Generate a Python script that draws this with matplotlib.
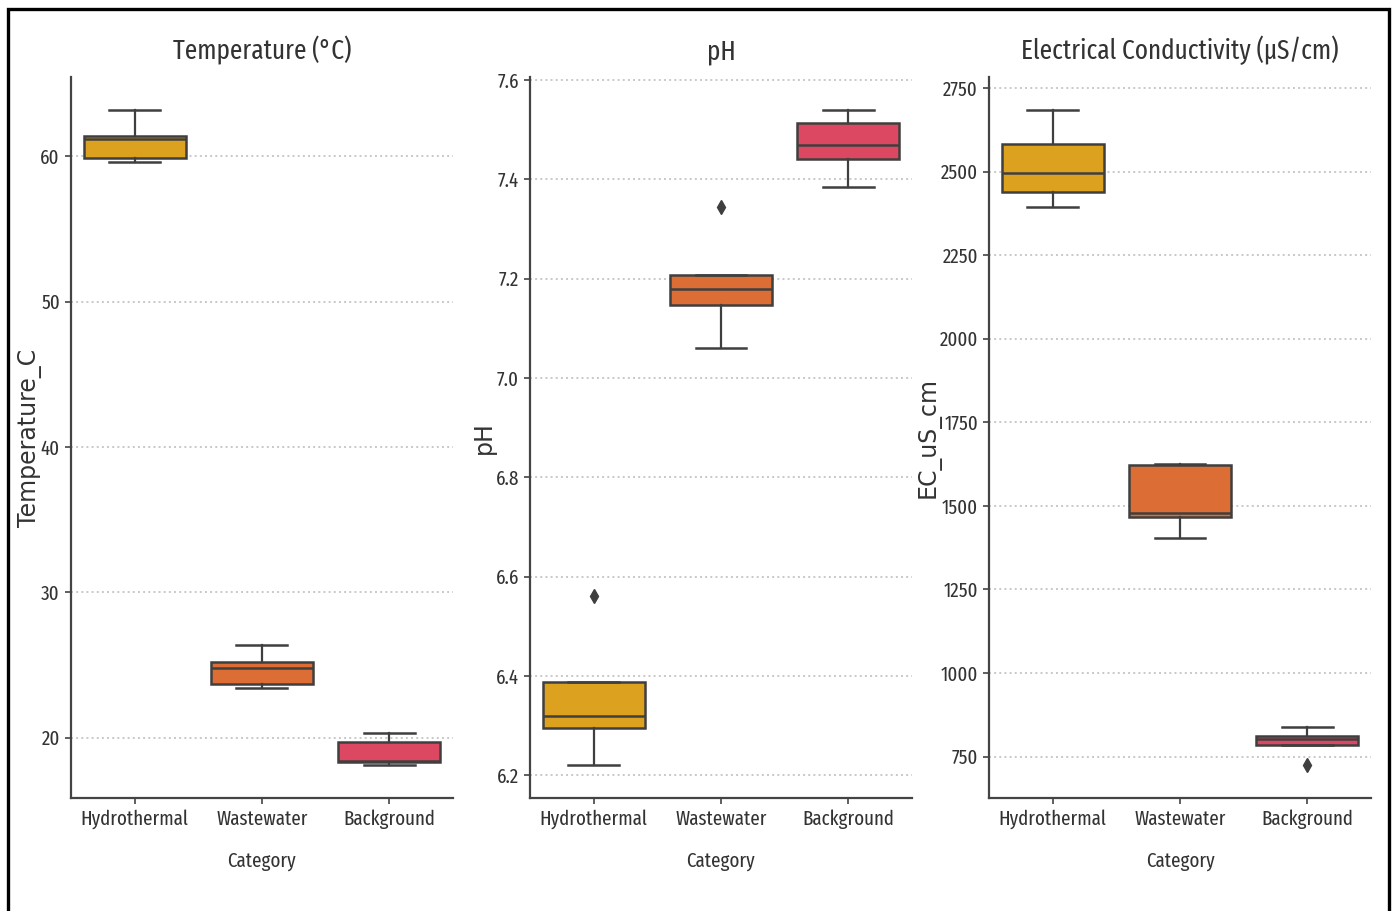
import os
import matplotlib
matplotlib.use("Agg")
import matplotlib.pyplot as plt
from matplotlib import font_manager
from matplotlib.font_manager import FontProperties
from matplotlib.patches import Rectangle
from matplotlib.textpath import TextPath
from matplotlib.ticker import MultipleLocator

categories = ["Hydrothermal", "Wastewater", "Background"]
box_colors = ["#DBA11F", "#DC6D35", "#DC4862"]

# box statistics per category: lower whisker, Q1, median, Q3, upper whisker, outliers
temp_whislo = [59.6, 23.4, 18.1]
temp_q1 = [59.9, 23.7, 18.3]
temp_med = [61.2, 24.8, 18.4]
temp_q3 = [61.4, 25.2, 19.7]
temp_whishi = [63.2, 26.4, 20.3]
temp_fliers = [[], [], []]

ph_whislo = [6.22, 7.06, 7.385]
ph_q1 = [6.295, 7.147, 7.44]
ph_med = [6.32, 7.18, 7.47]
ph_q3 = [6.387, 7.208, 7.513]
ph_whishi = [6.387, 7.208, 7.54]
ph_fliers = [[6.56], [7.345], []]

ec_whislo = [2394, 1404, 786]
ec_q1 = [2440, 1467, 786]
ec_med = [2497, 1478, 802]
ec_q3 = [2583, 1621, 813]
ec_whishi = [2685, 1626, 839]
ec_fliers = [[], [], [724]]

titles = ["Temperature (°C)", "pH", "Electrical Conductivity (µS/cm)"]
ylabels = ["Temperature_C", "pH", "EC_uS_cm"]
tick_steps = [10, 0.2, 250]

edge = "#3F3F3F"
text_col = "#333333"


def narrow_font_file():
    # narrowest regular-weight sans face available
    skip = ["bold", "italic", "light", "thin", "black", "medium", "semibold",
            "mono", "serif", "display"]
    groups = [["extracondensed.", "extracondensed-regular"],
              ["liberationsansnarrow-regular"],
              ["condensed.", "condensed-regular", "condensedregular"]]
    files = sorted(f.fname for f in font_manager.fontManager.ttflist)
    for keys in groups:
        for f in files:
            b = os.path.basename(f).lower()
            if any(s in b for s in skip):
                continue
            if "semicondensed" in b or "ultracondensed" in b:
                continue
            if "extracondensed" in b and keys[0] != "extracondensed.":
                continue
            if any(k in b for k in keys):
                return f
    return None


nf = narrow_font_file()


def fprop(size):
    if nf:
        return FontProperties(fname=nf, size=size)
    return FontProperties(family="DejaVu Sans", size=size)


def fit_size(text, target_px, cap):
    w = TextPath((0, 0), text, size=10, prop=fprop(10)).get_extents().width
    return min(cap, 10 * target_px / (w * 100 / 72))


tick_size = fit_size("Hydrothermal", 106, 18.5)
title_size = fit_size("Electrical Conductivity (µS/cm)", 315, 25)


def make_stats(whislo, q1, med, q3, whishi, fliers):
    stats = []
    for i in range(len(categories)):
        stats.append(dict(label=categories[i], whislo=whislo[i], q1=q1[i],
                          med=med[i], q3=q3[i], whishi=whishi[i],
                          fliers=fliers[i]))
    return stats


panels = [
    make_stats(temp_whislo, temp_q1, temp_med, temp_q3, temp_whishi, temp_fliers),
    make_stats(ph_whislo, ph_q1, ph_med, ph_q3, ph_whishi, ph_fliers),
    make_stats(ec_whislo, ec_q1, ec_med, ec_q3, ec_whishi, ec_fliers),
]

fig = plt.figure(figsize=(13.94, 9.11), dpi=100)
lefts = [0.0509, 0.3802, 0.7095]
width = 0.274
bottom, top = 0.124, 0.9155
ylabel_x = [-0.075, -0.09, -0.126]

for k, stats in enumerate(panels):
    ax = fig.add_axes([lefts[k], bottom, width, top - bottom])
    bp = ax.bxp(stats, positions=range(3), widths=0.8, patch_artist=True,
                showfliers=True,
                boxprops=dict(edgecolor=edge, linewidth=1.8),
                medianprops=dict(color=edge, linewidth=1.8),
                whiskerprops=dict(color=edge, linewidth=1.6),
                capprops=dict(color=edge, linewidth=1.8),
                flierprops=dict(marker="d", markerfacecolor=edge,
                                markeredgecolor=edge, markersize=7))
    for patch, c in zip(bp["boxes"], box_colors):
        patch.set_facecolor(c)
    for cap in bp["caps"]:
        x0, x1 = cap.get_xdata()
        mid = (x0 + x1) / 2
        cap.set_xdata([mid - 0.2, mid + 0.2])

    ax.set_xlim(-0.5, 2.5)
    ax.yaxis.set_major_locator(MultipleLocator(tick_steps[k]))
    ax.yaxis.grid(True, linestyle=":", color="#C8C8C8", linewidth=1.4)
    ax.set_axisbelow(True)
    for s in ["top", "right"]:
        ax.spines[s].set_visible(False)
    for s in ["left", "bottom"]:
        ax.spines[s].set_color("#444444")
        ax.spines[s].set_linewidth(1.6)
    ax.tick_params(colors="#444444", labelcolor=text_col, length=4,
                   width=1.2, pad=4)
    ax.set_xticks(range(3))
    ax.set_xticklabels(categories, fontproperties=fprop(tick_size))
    for lab in ax.get_yticklabels():
        lab.set_fontproperties(fprop(tick_size))
    ax.set_title(titles[k], fontproperties=fprop(title_size), color=text_col,
                 pad=13)
    ax.set_xlabel("Category", fontproperties=fprop(tick_size), color=text_col,
                  labelpad=16)
    ax.set_ylabel(ylabels[k], family="DejaVu Sans", fontsize=17,
                  color=text_col)
    ax.yaxis.set_label_coords(ylabel_x[k], 0.5)

# thin black frame around the figure
fig.patches.append(Rectangle((0.0057, -0.02), 0.9907, 1.0101,
                             transform=fig.transFigure, fill=False,
                             edgecolor="black", linewidth=2.4))

fig.savefig("out.png", dpi=100, facecolor="white")
